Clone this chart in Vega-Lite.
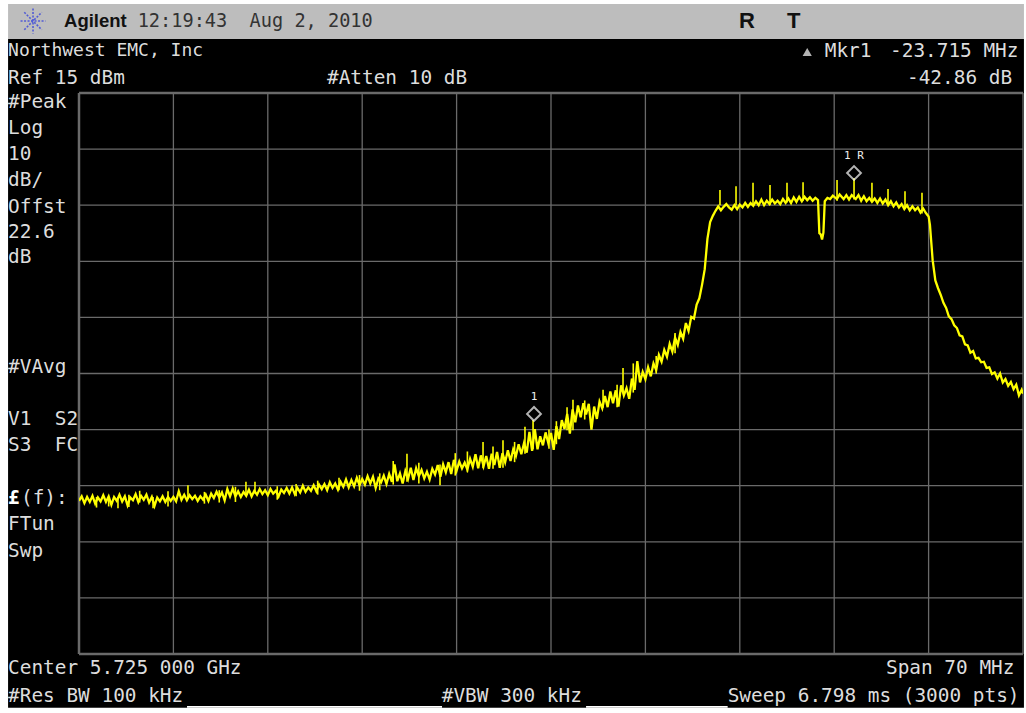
{"$schema":"https://vega.github.io/schema/vega-lite/v6.json","width":944,"height":561,"padding":{"left":79,"top":93,"right":3,"bottom":59},"autosize":{"type":"none"},"background":"#ffffff","config":{"view":{"stroke":null}},
"datasets":{
"screen":[{"f":5684.74,"f2":5760.07,"p":24.63,"p2":-94.6}],
"header":[{"f":5684.74,"f2":5760.07,"p":30.86,"p2":24.63}],
"notch":[{"f":5698.01,"f2":5716.92,"p":-94.27,"p2":-94.6},{"f":5727.6,"f2":5738.1,"p":-94.27,"p2":-94.6}],
"company":[{"t":"Northwest EMC, Inc","f":5684.74,"p":22.49}],
"labels":[
{"t":"Ref 15 dBm","f":5684.74,"p":17.67},{"t":"#Atten 10 dB","f":5708.39,"p":17.67},
{"t":"#Peak","f":5684.74,"p":13.4},{"t":"Log","f":5684.74,"p":8.76},{"t":"10","f":5684.74,"p":4.13},{"t":"dB/","f":5684.74,"p":-0.5},{"t":"Offst","f":5684.74,"p":-5.32},{"t":"22.6","f":5684.74,"p":-9.78},{"t":"dB","f":5684.74,"p":-14.2},{"t":"#VAvg","f":5684.74,"p":-33.8},{"t":"V1\u00a0\u00a0S2","f":5684.74,"p":-43.1},{"t":"S3\u00a0\u00a0FC","f":5684.74,"p":-47.7},{"t":"(f):","f":5685.7,"p":-57.2},{"t":"FTun","f":5684.74,"p":-61.8},{"t":"Swp","f":5684.74,"p":-66.6},
{"t":"Center 5.725 000 GHz","f":5684.74,"p":-87.5},{"t":"Span 70 MHz","f":5749.84,"p":-87.5},{"t":"#Res BW 100 kHz","f":5684.74,"p":-92.5},{"t":"#VBW 300 kHz","f":5716.9,"p":-92.5},{"t":"Sweep 6.798 ms (3000 pts)","f":5738.1,"p":-92.5},
{"t":"Mkr1","f":5745.3,"p":22.49},{"t":"-23.715 MHz","f":5750.14,"p":22.49},{"t":"-42.86 dB","f":5751.4,"p":17.67}],
"pound":[{"t":"£","f":5684.74,"p":-57.2}],
"clock":[{"t":"12:19:43\u00a0\u00a0Aug 2, 2010","f":5694.35,"p":27.83}],
"bold":[{"t":"Agilent","f":5688.89,"p":27.83}],
"status":[{"t":"R","f":5738.94,"p":27.83},{"t":"T","f":5742.5,"p":27.83}],
"logo":[{"f":5686.59,"p":27.83}],
"delta":[{"f":5744.0,"p":22.3}],
"markers":[{"f":5723.74,"p":-42.2},{"f":5747.47,"p":0.74}],
"markerText":[{"t":"1","f":5723.74,"p":-39.2},{"t":"1 R","f":5747.47,"p":3.8}],
"grid":[{"f":5690},{"f":5697},{"f":5704},{"f":5711},{"f":5718},{"f":5725},{"f":5732},{"f":5739},{"f":5746},{"f":5753},{"f":5760}],
"gridH":[{"p":15},{"p":5},{"p":-5},{"p":-15},{"p":-25},{"p":-35},{"p":-45},{"p":-55},{"p":-65},{"p":-75},{"p":-85}],
"spikes":[
{"f":5691.3,"lo":-58.9,"hi":-57},{"f":5692.2,"lo":-58.7,"hi":-57},{"f":5692.89,"lo":-59,"hi":-57},{"f":5693.7,"lo":-58.8,"hi":-56.6},{"f":5694.5,"lo":-58,"hi":-55.9},{"f":5695.49,"lo":-59,"hi":-57},{"f":5696.6,"lo":-58.7,"hi":-56},{"f":5698.08,"lo":-57.2,"hi":-54.9},{"f":5699.3,"lo":-58.2,"hi":-56.1},{"f":5700.4,"lo":-58,"hi":-55.8},{"f":5701.6,"lo":-57.9,"hi":-55.2},{"f":5702.38,"lo":-56.6,"hi":-54.3},{"f":5703.05,"lo":-56.4,"hi":-54.3},{"f":5704.7,"lo":-57.5,"hi":-55.1},{"f":5706.1,"lo":-56.9,"hi":-54.7},{"f":5707.7,"lo":-56.6,"hi":-54.1},{"f":5709.28,"lo":-55.8,"hi":-53.6},{"f":5710.8,"lo":-55.9,"hi":-53.1},{"f":5712.3,"lo":-55.8,"hi":-52.8},{"f":5713.3,"lo":-54.8,"hi":-50.6},{"f":5714.32,"lo":-54.3,"hi":-49.3},{"f":5715.2,"lo":-54.6,"hi":-50.9},{"f":5716.77,"lo":-54.9,"hi":-51.2},{"f":5717.9,"lo":-53.2,"hi":-49.2},{"f":5718.8,"lo":-52.6,"hi":-48.9},{"f":5719.96,"lo":-51.9,"hi":-47.2},{"f":5720.7,"lo":-52,"hi":-48},{"f":5721.44,"lo":-51.8,"hi":-46.9},{"f":5722.3,"lo":-50.8,"hi":-47.2},{"f":5723.07,"lo":-49.3,"hi":-44.5},{"f":5723.67,"lo":-48.5,"hi":-43.3},{"f":5724.85,"lo":-48.4,"hi":-45},{"f":5725.4,"lo":-47.6,"hi":-43.5},{"f":5726.19,"lo":-45.1,"hi":-41},{"f":5726.63,"lo":-45.1,"hi":-39.7},{"f":5727.5,"lo":-43.2,"hi":-39.8},{"f":5728.86,"lo":-41.1,"hi":-37.9},{"f":5729.9,"lo":-41,"hi":-37},{"f":5730.34,"lo":-38.3,"hi":-34},{"f":5731.1,"lo":-38.4,"hi":-33.2},{"f":5732.8,"lo":-35,"hi":-31.9},{"f":5734.2,"lo":-31.4,"hi":-27.8},
{"f":5737.53,"lo":-5,"hi":-2.3},{"f":5738.72,"lo":-5,"hi":-1.6},{"f":5739.98,"lo":-5,"hi":-1},{"f":5741.24,"lo":-5,"hi":-1.4},{"f":5742.5,"lo":-4.5,"hi":-1},{"f":5743.69,"lo":-4.2,"hi":-0.9},{"f":5746.21,"lo":-4.2,"hi":-0.5},{"f":5747.47,"lo":-4,"hi":-0.2},{"f":5748.8,"lo":-4.4,"hi":-1},{"f":5749.99,"lo":-4.8,"hi":-2.1},{"f":5751.25,"lo":-5.6,"hi":-2.5},{"f":5752.51,"lo":-6.5,"hi":-2.8}],
"trace":[
{"f":5690.0,"p":-57.7},{"f":5690.2,"p":-56.9},{"f":5690.4,"p":-58.1},{"f":5690.6,"p":-57.0},{"f":5690.8,"p":-57.9},{"f":5691.0,"p":-56.8},{"f":5691.2,"p":-58.2},{"f":5691.4,"p":-57.1},{"f":5691.6,"p":-57.8},{"f":5691.8,"p":-56.7},{"f":5692.0,"p":-57.9},{"f":5692.2,"p":-56.9},{"f":5692.4,"p":-58.4},{"f":5692.6,"p":-57.0},{"f":5692.8,"p":-57.7},{"f":5693.0,"p":-56.6},{"f":5693.2,"p":-57.8},{"f":5693.4,"p":-56.9},{"f":5693.6,"p":-58.5},{"f":5693.8,"p":-57.1},{"f":5694.0,"p":-57.6},{"f":5694.2,"p":-56.5},{"f":5694.4,"p":-57.9},{"f":5694.6,"p":-56.8},{"f":5694.8,"p":-57.5},{"f":5695.0,"p":-56.6},{"f":5695.2,"p":-58.0},{"f":5695.4,"p":-57.0},{"f":5695.6,"p":-58.6},{"f":5695.8,"p":-57.1},{"f":5696.0,"p":-57.8},{"f":5696.2,"p":-56.9},{"f":5696.4,"p":-57.9},{"f":5696.6,"p":-57.0},{"f":5696.8,"p":-57.7},{"f":5697.0,"p":-57.0},{"f":5697.2,"p":-57.8},{"f":5697.4,"p":-56.0},{"f":5697.6,"p":-57.5},{"f":5697.8,"p":-56.6},{"f":5698.0,"p":-57.6},{"f":5698.2,"p":-56.7},{"f":5698.4,"p":-57.4},{"f":5698.6,"p":-56.8},{"f":5698.8,"p":-57.7},{"f":5699.0,"p":-56.9},{"f":5699.2,"p":-57.5},{"f":5699.4,"p":-56.6},{"f":5699.6,"p":-57.7},{"f":5699.8,"p":-56.4},{"f":5700.0,"p":-57.2},{"f":5700.2,"p":-56.1},{"f":5700.4,"p":-57.1},{"f":5700.6,"p":-56.2},{"f":5700.8,"p":-57.6},{"f":5701.0,"p":-55.6},{"f":5701.2,"p":-56.9},{"f":5701.4,"p":-55.5},{"f":5701.6,"p":-56.9},{"f":5701.8,"p":-56.0},{"f":5702.0,"p":-57.0},{"f":5702.2,"p":-56.1},{"f":5702.4,"p":-56.8},{"f":5702.6,"p":-55.7},{"f":5702.8,"p":-56.9},{"f":5703.0,"p":-55.9},{"f":5703.2,"p":-56.6},{"f":5703.4,"p":-55.6},{"f":5703.6,"p":-56.5},{"f":5703.8,"p":-55.8},{"f":5704.0,"p":-56.7},{"f":5704.2,"p":-55.6},{"f":5704.4,"p":-56.4},{"f":5704.6,"p":-55.9},{"f":5704.8,"p":-56.9},{"f":5705.0,"p":-55.7},{"f":5705.2,"p":-56.3},{"f":5705.4,"p":-55.4},{"f":5705.6,"p":-56.4},{"f":5705.8,"p":-55.3},{"f":5706.0,"p":-56.5},{"f":5706.2,"p":-55.4},{"f":5706.4,"p":-56.2},{"f":5706.6,"p":-55.0},{"f":5706.8,"p":-56.1},{"f":5707.0,"p":-55.3},{"f":5707.2,"p":-55.9},{"f":5707.4,"p":-54.9},{"f":5707.6,"p":-56.0},{"f":5707.8,"p":-54.8},{"f":5708.0,"p":-55.6},{"f":5708.2,"p":-54.7},{"f":5708.4,"p":-55.8},{"f":5708.6,"p":-54.4},{"f":5708.8,"p":-55.4},{"f":5709.0,"p":-54.6},{"f":5709.2,"p":-55.7},{"f":5709.4,"p":-54.3},{"f":5709.6,"p":-55.2},{"f":5709.8,"p":-53.9},{"f":5710.0,"p":-55.3},{"f":5710.2,"p":-54.0},{"f":5710.4,"p":-55.1},{"f":5710.6,"p":-53.6},{"f":5710.8,"p":-54.9},{"f":5711.0,"p":-53.8},{"f":5711.2,"p":-54.8},{"f":5711.4,"p":-53.3},{"f":5711.6,"p":-54.6},{"f":5711.8,"p":-53.4},{"f":5712.0,"p":-55.4},{"f":5712.2,"p":-53.7},{"f":5712.4,"p":-54.4},{"f":5712.6,"p":-53.2},{"f":5712.8,"p":-54.7},{"f":5713.0,"p":-52.9},{"f":5713.2,"p":-54.3},{"f":5713.4,"p":-51.2},{"f":5713.6,"p":-54.2},{"f":5713.8,"p":-52.8},{"f":5714.0,"p":-54.6},{"f":5714.2,"p":-52.4},{"f":5714.4,"p":-53.8},{"f":5714.6,"p":-51.8},{"f":5714.8,"p":-54.0},{"f":5715.0,"p":-51.9},{"f":5715.2,"p":-53.3},{"f":5715.4,"p":-52.2},{"f":5715.6,"p":-53.7},{"f":5715.8,"p":-52.5},{"f":5716.0,"p":-53.9},{"f":5716.2,"p":-52.0},{"f":5716.4,"p":-53.0},{"f":5716.6,"p":-51.3},{"f":5716.8,"p":-53.4},{"f":5717.0,"p":-51.2},{"f":5717.2,"p":-52.6},{"f":5717.4,"p":-50.8},{"f":5717.6,"p":-52.9},{"f":5717.8,"p":-50.4},{"f":5718.0,"p":-52.3},{"f":5718.2,"p":-50.7},{"f":5718.4,"p":-51.9},{"f":5718.6,"p":-50.9},{"f":5718.8,"p":-52.1},{"f":5719.0,"p":-50.2},{"f":5719.2,"p":-51.6},{"f":5719.4,"p":-49.4},{"f":5719.6,"p":-51.9},{"f":5719.8,"p":-49.6},{"f":5720.0,"p":-51.5},{"f":5720.2,"p":-49.7},{"f":5720.4,"p":-52.0},{"f":5720.6,"p":-49.3},{"f":5720.8,"p":-51.3},{"f":5721.0,"p":-49.0},{"f":5721.2,"p":-51.8},{"f":5721.4,"p":-49.2},{"f":5721.6,"p":-50.8},{"f":5721.8,"p":-48.7},{"f":5722.0,"p":-50.6},{"f":5722.2,"p":-48.5},{"f":5722.4,"p":-49.7},{"f":5722.6,"p":-47.6},{"f":5722.8,"p":-49.4},{"f":5723.0,"p":-47.4},{"f":5723.2,"p":-49.1},{"f":5723.4,"p":-45.4},{"f":5723.6,"p":-48.8},{"f":5723.8,"p":-44.9},{"f":5724.0,"p":-48.5},{"f":5724.2,"p":-46.2},{"f":5724.4,"p":-47.8},{"f":5724.6,"p":-45.5},{"f":5724.8,"p":-47.4},{"f":5725.0,"p":-45.6},{"f":5725.2,"p":-48.6},{"f":5725.4,"p":-44.4},{"f":5725.6,"p":-46.7},{"f":5725.8,"p":-43.3},{"f":5726.0,"p":-44.9},{"f":5726.2,"p":-42.2},{"f":5726.4,"p":-45.7},{"f":5726.6,"p":-41.4},{"f":5726.8,"p":-43.7},{"f":5727.0,"p":-40.7},{"f":5727.2,"p":-42.8},{"f":5727.4,"p":-40.3},{"f":5727.6,"p":-42.3},{"f":5727.8,"p":-40.4},{"f":5728.0,"p":-45.0},{"f":5728.2,"p":-40.9},{"f":5728.4,"p":-43.1},{"f":5728.6,"p":-40.0},{"f":5728.8,"p":-41.2},{"f":5729.0,"p":-39.0},{"f":5729.2,"p":-41.0},{"f":5729.4,"p":-38.2},{"f":5729.6,"p":-40.3},{"f":5729.8,"p":-38.0},{"f":5730.0,"p":-40.9},{"f":5730.2,"p":-37.1},{"f":5730.4,"p":-38.9},{"f":5730.6,"p":-37.6},{"f":5730.8,"p":-39.5},{"f":5731.0,"p":-35.9},{"f":5731.2,"p":-37.9},{"f":5731.4,"p":-32.8},{"f":5731.6,"p":-36.6},{"f":5731.8,"p":-34.7},{"f":5732.0,"p":-36.0},{"f":5732.2,"p":-33.9},{"f":5732.4,"p":-35.5},{"f":5732.6,"p":-33.2},{"f":5732.8,"p":-34.4},{"f":5733.0,"p":-31.7},{"f":5733.2,"p":-32.9},{"f":5733.4,"p":-30.8},{"f":5733.6,"p":-32.0},{"f":5733.8,"p":-29.7},{"f":5734.0,"p":-31.1},{"f":5734.2,"p":-28.6},{"f":5734.4,"p":-29.9},{"f":5734.6,"p":-27.6},{"f":5734.8,"p":-28.8},{"f":5735.0,"p":-26.0},{"f":5735.2,"p":-27.4},{"f":5735.4,"p":-24.9},{"f":5735.6,"p":-25.2},{"f":5735.8,"p":-22.7},{"f":5736.0,"p":-21.6},{"f":5736.2,"p":-19.2},{"f":5736.4,"p":-16.4},{"f":5736.6,"p":-11.0},{"f":5736.8,"p":-8.0},{"f":5737.0,"p":-6.9},{"f":5737.2,"p":-6.0},{"f":5737.4,"p":-5.2},{"f":5737.6,"p":-5.9},{"f":5737.8,"p":-5.3},{"f":5738.0,"p":-4.8},{"f":5738.2,"p":-5.4},{"f":5738.4,"p":-5.8},{"f":5738.6,"p":-5.0},{"f":5738.8,"p":-5.7},{"f":5739.0,"p":-4.9},{"f":5739.2,"p":-5.4},{"f":5739.4,"p":-4.6},{"f":5739.6,"p":-5.3},{"f":5739.8,"p":-4.6},{"f":5740.0,"p":-5.1},{"f":5740.2,"p":-4.3},{"f":5740.4,"p":-5.0},{"f":5740.6,"p":-4.0},{"f":5740.8,"p":-5.0},{"f":5741.0,"p":-4.2},{"f":5741.2,"p":-4.8},{"f":5741.4,"p":-4.0},{"f":5741.6,"p":-4.7},{"f":5741.8,"p":-4.2},{"f":5742.0,"p":-4.8},{"f":5742.2,"p":-3.9},{"f":5742.4,"p":-4.6},{"f":5742.6,"p":-3.8},{"f":5742.8,"p":-4.6},{"f":5743.0,"p":-3.6},{"f":5743.2,"p":-4.4},{"f":5743.4,"p":-3.5},{"f":5743.6,"p":-4.3},{"f":5743.8,"p":-3.5},{"f":5744.0,"p":-4.1},{"f":5744.2,"p":-3.6},{"f":5744.4,"p":-4.2},{"f":5744.6,"p":-3.7},{"f":5744.8,"p":-4.1},{"f":5744.9,"p":-10.0},{"f":5745.0,"p":-10.2},{"f":5745.1,"p":-11.1},{"f":5745.2,"p":-9.9},{"f":5745.3,"p":-4.3},{"f":5745.5,"p":-3.7},{"f":5745.7,"p":-3.9},{"f":5745.9,"p":-3.3},{"f":5746.2,"p":-3.9},{"f":5746.4,"p":-3.1},{"f":5746.7,"p":-3.9},{"f":5746.9,"p":-3.2},{"f":5747.1,"p":-4.0},{"f":5747.3,"p":-3.2},{"f":5747.6,"p":-3.9},{"f":5747.8,"p":-3.2},{"f":5748.0,"p":-4.2},{"f":5748.2,"p":-3.4},{"f":5748.4,"p":-4.3},{"f":5748.6,"p":-3.7},{"f":5748.8,"p":-4.4},{"f":5749.0,"p":-3.8},{"f":5749.2,"p":-4.6},{"f":5749.4,"p":-3.8},{"f":5749.6,"p":-4.7},{"f":5749.8,"p":-4.0},{"f":5750.0,"p":-5.0},{"f":5750.2,"p":-4.3},{"f":5750.4,"p":-5.2},{"f":5750.6,"p":-4.5},{"f":5750.8,"p":-5.4},{"f":5751.0,"p":-4.8},{"f":5751.2,"p":-5.7},{"f":5751.4,"p":-5.0},{"f":5751.6,"p":-5.9},{"f":5751.8,"p":-5.2},{"f":5752.0,"p":-5.9},{"f":5752.2,"p":-5.4},{"f":5752.4,"p":-6.3},{"f":5752.6,"p":-5.6},{"f":5752.8,"p":-6.4},{"f":5753.0,"p":-7.0},{"f":5753.1,"p":-8.5},{"f":5753.3,"p":-14.8},{"f":5753.5,"p":-18.4},{"f":5753.7,"p":-19.8},{"f":5753.9,"p":-21.0},{"f":5754.1,"p":-22.4},{"f":5754.3,"p":-23.3},{"f":5754.5,"p":-24.8},{"f":5754.7,"p":-25.3},{"f":5754.9,"p":-26.4},{"f":5755.1,"p":-26.9},{"f":5755.3,"p":-28.2},{"f":5755.5,"p":-28.4},{"f":5755.7,"p":-29.8},{"f":5755.9,"p":-30.0},{"f":5756.1,"p":-31.3},{"f":5756.3,"p":-31.0},{"f":5756.5,"p":-32.3},{"f":5756.7,"p":-32.2},{"f":5756.9,"p":-33.0},{"f":5757.1,"p":-32.9},{"f":5757.3,"p":-34.0},{"f":5757.5,"p":-33.9},{"f":5757.7,"p":-35.1},{"f":5757.9,"p":-34.8},{"f":5758.1,"p":-35.9},{"f":5758.3,"p":-35.0},{"f":5758.5,"p":-36.6},{"f":5758.7,"p":-36.0},{"f":5758.9,"p":-37.2},{"f":5759.1,"p":-36.5},{"f":5759.3,"p":-37.8},{"f":5759.5,"p":-37.0},{"f":5759.7,"p":-38.9},{"f":5759.9,"p":-37.9},{"f":5760.0,"p":-38.6}]
},
"layer":[
{"data":{"name":"screen"},"mark":{"type":"rect","color":"#000000","clip":false},"encoding":{"x":{"field":"f","type":"quantitative","scale":{"domain":[5690,5760],"nice":false,"zero":false},"axis":null},"x2":{"field":"f2"},"y":{"field":"p","type":"quantitative","scale":{"domain":[-85,15],"nice":false,"zero":false},"axis":null},"y2":{"field":"p2"}}},
{"data":{"name":"header"},"mark":{"type":"rect","color":"#bdbdbd"},"encoding":{"x":{"field":"f","type":"quantitative"},"x2":{"field":"f2"},"y":{"field":"p","type":"quantitative"},"y2":{"field":"p2"}}},
{"data":{"name":"notch"},"mark":{"type":"rect","color":"#ffffff"},"encoding":{"x":{"field":"f","type":"quantitative"},"x2":{"field":"f2"},"y":{"field":"p","type":"quantitative"},"y2":{"field":"p2"}}},
{"data":{"name":"grid"},"mark":{"type":"rule","color":"#6a6a6a","strokeWidth":1.3},"encoding":{"x":{"field":"f","type":"quantitative"}}},
{"data":{"name":"gridH"},"mark":{"type":"rule","color":"#6a6a6a","strokeWidth":1.3},"encoding":{"y":{"field":"p","type":"quantitative"}}},
{"data":{"name":"grid"},"transform":[{"filter":"datum.f==5690"}],"mark":{"type":"rule","color":"#6a6a6a","strokeWidth":2.5},"encoding":{"x":{"field":"f","type":"quantitative"}}},
{"data":{"name":"gridH"},"transform":[{"filter":"datum.p==-85||datum.p==15"}],"mark":{"type":"rule","color":"#6a6a6a","strokeWidth":2.5},"encoding":{"y":{"field":"p","type":"quantitative"}}},
{"data":{"name":"trace"},"mark":{"type":"line","color":"#ffff00","strokeWidth":2.3,"interpolate":"linear","clip":true},"encoding":{"x":{"field":"f","type":"quantitative"},"y":{"field":"p","type":"quantitative"}}},
{"data":{"name":"spikes"},"mark":{"type":"rule","color":"#ffff00","strokeWidth":1.6},"encoding":{"x":{"field":"f","type":"quantitative"},"y":{"field":"lo","type":"quantitative"},"y2":{"field":"hi"}}},
{"data":{"name":"markers"},"mark":{"type":"point","shape":"diamond","size":190,"filled":false,"color":"#ffffff","strokeWidth":2},"encoding":{"x":{"field":"f","type":"quantitative"},"y":{"field":"p","type":"quantitative"}}},
{"data":{"name":"markerText"},"mark":{"type":"text","font":"DejaVu Sans Mono","fontSize":11,"color":"#eeeeee","align":"center","baseline":"middle"},"encoding":{"x":{"field":"f","type":"quantitative"},"y":{"field":"p","type":"quantitative"},"text":{"field":"t"}}},
{"data":{"name":"company"},"mark":{"type":"text","font":"DejaVu Sans Mono","fontSize":18,"color":"#dddddd","align":"left","baseline":"middle"},"encoding":{"x":{"field":"f","type":"quantitative"},"y":{"field":"p","type":"quantitative"},"text":{"field":"t"}}},
{"data":{"name":"labels"},"mark":{"type":"text","font":"DejaVu Sans Mono","fontSize":19.4,"color":"#dddddd","align":"left","baseline":"middle"},"encoding":{"x":{"field":"f","type":"quantitative"},"y":{"field":"p","type":"quantitative"},"text":{"field":"t"}}},
{"data":{"name":"pound"},"mark":{"type":"text","font":"DejaVu Sans Mono","fontWeight":"bold","fontSize":19.4,"color":"#ffffff","align":"left","baseline":"middle"},"encoding":{"x":{"field":"f","type":"quantitative"},"y":{"field":"p","type":"quantitative"},"text":{"field":"t"}}},
{"data":{"name":"clock"},"mark":{"type":"text","font":"DejaVu Sans Mono","fontSize":18.6,"color":"#333333","align":"left","baseline":"middle"},"encoding":{"x":{"field":"f","type":"quantitative"},"y":{"field":"p","type":"quantitative"},"text":{"field":"t"}}},
{"data":{"name":"bold"},"mark":{"type":"text","font":"Liberation Sans","fontWeight":"bold","fontSize":18.5,"color":"#111111","align":"left","baseline":"middle"},"encoding":{"x":{"field":"f","type":"quantitative"},"y":{"field":"p","type":"quantitative"},"text":{"field":"t"}}},
{"data":{"name":"status"},"mark":{"type":"text","font":"Liberation Sans","fontWeight":"bold","fontSize":22,"color":"#111111","align":"left","baseline":"middle"},"encoding":{"x":{"field":"f","type":"quantitative"},"y":{"field":"p","type":"quantitative"},"text":{"field":"t"}}},
{"data":{"name":"logo"},"mark":{"type":"point","shape":"M-1,0L1,0M0,-1L0,1M-0.7,-0.7L0.7,0.7M-0.7,0.7L0.7,-0.7","size":620,"filled":false,"color":"#2433e0","strokeWidth":1.6,"strokeDash":[2,1.5]},"encoding":{"x":{"field":"f","type":"quantitative"},"y":{"field":"p","type":"quantitative"}}},
{"data":{"name":"delta"},"mark":{"type":"point","shape":"triangle-up","size":85,"filled":true,"color":"#ffffff"},"encoding":{"x":{"field":"f","type":"quantitative"},"y":{"field":"p","type":"quantitative"}}}
]}
